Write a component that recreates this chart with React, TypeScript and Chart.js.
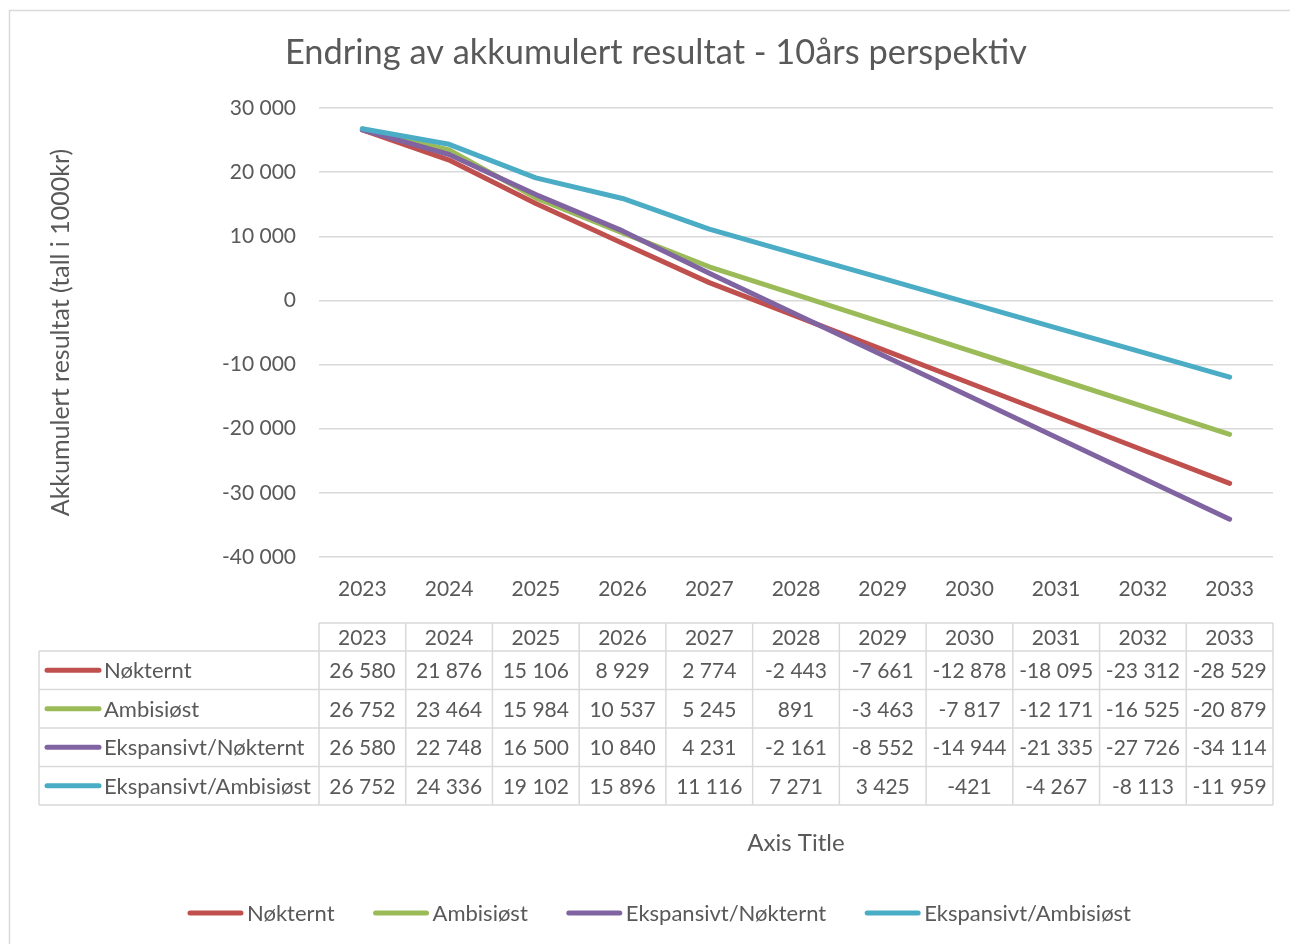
import React, { useEffect, useRef } from "react";
import { Chart, registerables } from "chart.js";

Chart.register(...registerables);

const years = ["2023", "2024", "2025", "2026", "2027", "2028", "2029", "2030", "2031", "2032", "2033"];
const nokternt = [26580, 21876, 15106, 8929, 2774, -2443, -7661, -12878, -18095, -23312, -28529];
const ambisiost = [26752, 23464, 15984, 10537, 5245, 891, -3463, -7817, -12171, -16525, -20879];
const ekspansivtNokternt = [26580, 22748, 16500, 10840, 4231, -2161, -8552, -14944, -21335, -27726, -34114];
const ekspansivtAmbisiost = [26752, 24336, 19102, 15896, 11116, 7271, 3425, -421, -4267, -8113, -11959];
const seriesNames = ["Nøkternt", "Ambisiøst", "Ekspansivt/Nøkternt", "Ekspansivt/Ambisiøst"];
const seriesColors = ["#c0504d", "#9bbb59", "#8064a2", "#4bacc6"];
const seriesValues = [nokternt, ambisiost, ekspansivtNokternt, ekspansivtAmbisiost];
const yMin = -40000;
const yMax = 30000;
const yStep = 10000;
const titleText = "Endring av akkumulert resultat - 10års perspektiv";
const yTitleText = "Akkumulert resultat (tall i 1000kr)";
const xTitleText = "Axis Title";

const FONT = "Lato, 'Noto Sans', sans-serif";
const TEXT = "#595959";
const GRID = "#d9d9d9";

function fmt(n: number): string {
  const s = Math.abs(n).toString().replace(/\B(?=(\d{3})+(?!\d))/g, " ");
  return (n < 0 ? "-" : "") + s;
}

const decorPlugin = {
  id: "decor",
  beforeDraw(chart: any) {
    const ctx = chart.ctx;
    ctx.save();
    ctx.fillStyle = "#ffffff";
    ctx.fillRect(0, 0, chart.width, chart.height);
    ctx.strokeStyle = GRID;
    ctx.lineWidth = 1.5;
    ctx.strokeRect(9.5, 10.5, chart.width + 20, chart.height + 20);
    ctx.restore();
  },
  afterDraw(chart: any) {
    const ctx = chart.ctx;
    const xs = chart.scales.x;
    const area = chart.chartArea;
    ctx.save();
    // title
    ctx.fillStyle = TEXT;
    ctx.font = `34.4px ${FONT}`;
    ctx.textAlign = "center";
    ctx.textBaseline = "middle";
    ctx.fillText(titleText, 656, 53);

    // data table
    const n = years.length;
    const step = (area.right - area.left) / n;
    const tableLeft = 39;
    const headTop = 623;
    const headBottom = 651;
    const rowH = 38.5;
    const tableBottom = headBottom + rowH * seriesValues.length;
    ctx.strokeStyle = GRID;
    ctx.lineWidth = 1.5;
    ctx.beginPath();
    ctx.moveTo(area.left, headTop);
    ctx.lineTo(area.right, headTop);
    for (let r = 0; r <= seriesValues.length; r++) {
      const y = headBottom + r * rowH;
      ctx.moveTo(tableLeft, y);
      ctx.lineTo(area.right, y);
    }
    ctx.moveTo(tableLeft, headBottom);
    ctx.lineTo(tableLeft, tableBottom);
    for (let c = 0; c <= n; c++) {
      const x = area.left + c * step;
      ctx.moveTo(x, headTop);
      ctx.lineTo(x, tableBottom);
    }
    ctx.stroke();

    ctx.font = `21px ${FONT}`;
    ctx.fillStyle = TEXT;
    ctx.textAlign = "center";
    ctx.textBaseline = "middle";
    for (let c = 0; c < n; c++) {
      const cx = xs.getPixelForValue(c);
      ctx.fillText(years[c], cx, (headTop + headBottom) / 2 + 1);
      for (let r = 0; r < seriesValues.length; r++) {
        const cy = headBottom + r * rowH + rowH / 2 + 1;
        ctx.fillText(fmt(seriesValues[r][c]), cx, cy);
      }
    }
    ctx.lineCap = "round";
    ctx.font = `22px ${FONT}`;
    for (let r = 0; r < seriesValues.length; r++) {
      const cy = headBottom + r * rowH + rowH / 2;
      ctx.strokeStyle = seriesColors[r];
      ctx.lineWidth = 5;
      ctx.beginPath();
      ctx.moveTo(47, cy);
      ctx.lineTo(99, cy);
      ctx.stroke();
      ctx.fillStyle = TEXT;
      ctx.textAlign = "left";
      ctx.fillText(seriesNames[r], 104, cy + 1);
    }

    // x axis title
    ctx.textAlign = "center";
    ctx.font = `24px ${FONT}`;
    ctx.fillText(xTitleText, (area.left + area.right) / 2, 843);

    // legend
    ctx.font = `22px ${FONT}`;
    const lineLen = 55;
    const gapText = 4;
    const gapItem = 39;
    const widths = seriesNames.map((s) => ctx.measureText(s).width);
    let total = 0;
    widths.forEach((w, i) => {
      total += lineLen + gapText + w + (i < widths.length - 1 ? gapItem : 0);
    });
    let x = 659.5 - total / 2;
    const ly = 913;
    for (let i = 0; i < seriesNames.length; i++) {
      ctx.strokeStyle = seriesColors[i];
      ctx.lineWidth = 5;
      ctx.beginPath();
      ctx.moveTo(x + 2, ly);
      ctx.lineTo(x + lineLen - 2, ly);
      ctx.stroke();
      ctx.fillStyle = TEXT;
      ctx.textAlign = "left";
      ctx.fillText(seriesNames[i], x + lineLen + gapText, ly + 1);
      x += lineLen + gapText + widths[i] + gapItem;
    }
    ctx.restore();
  },
};

export default function App() {
  const ref = useRef<HTMLCanvasElement | null>(null);
  useEffect(() => {
    document.body.style.margin = "0";
    const canvas = ref.current;
    if (!canvas) return;
    const chart = new Chart(canvas, {
      type: "line",
      data: {
        labels: years,
        datasets: seriesValues.map((vals, i) => ({
          label: seriesNames[i],
          data: vals,
          borderColor: seriesColors[i],
          backgroundColor: seriesColors[i],
          borderWidth: 5,
          pointRadius: 0,
          tension: 0,
          fill: false,
          borderCapStyle: "round" as const,
          borderJoinStyle: "round" as const,
          order: seriesValues.length - i,
        })),
      },
      options: {
        responsive: false,
        animation: false,
        layout: { padding: { left: 46, right: 17, top: 108, bottom: 0 } },
        plugins: {
          legend: { display: false },
          title: { display: false },
          tooltip: { enabled: false },
        },
        scales: {
          x: {
            offset: true,
            grid: { display: false, drawTicks: false },
            border: { display: false },
            ticks: { color: TEXT, font: { family: FONT, size: 21 }, padding: 20 },
            afterFit: (s: any) => {
              s.height = 944 - 557;
            },
          },
          y: {
            min: yMin,
            max: yMax,
            grid: { color: GRID, lineWidth: 1.5, drawTicks: false },
            border: { display: false },
            ticks: {
              stepSize: yStep,
              color: TEXT,
              font: { family: FONT, size: 21 },
              padding: 23,
              callback: (v: any) => fmt(Number(v)),
            },
            title: {
              display: true,
              text: yTitleText,
              color: TEXT,
              font: { family: FONT, size: 25 },
              padding: { top: 0, bottom: 0 },
            },
            afterFit: (s: any) => {
              s.width = 319 - 46;
            },
          },
        },
      },
      plugins: [decorPlugin],
    });
    return () => chart.destroy();
  }, []);
  return (
    <div style={{ width: 1290, height: 944 }}>
      <canvas ref={ref} width={1290} height={944} style={{ display: "block" }} />
    </div>
  );
}
